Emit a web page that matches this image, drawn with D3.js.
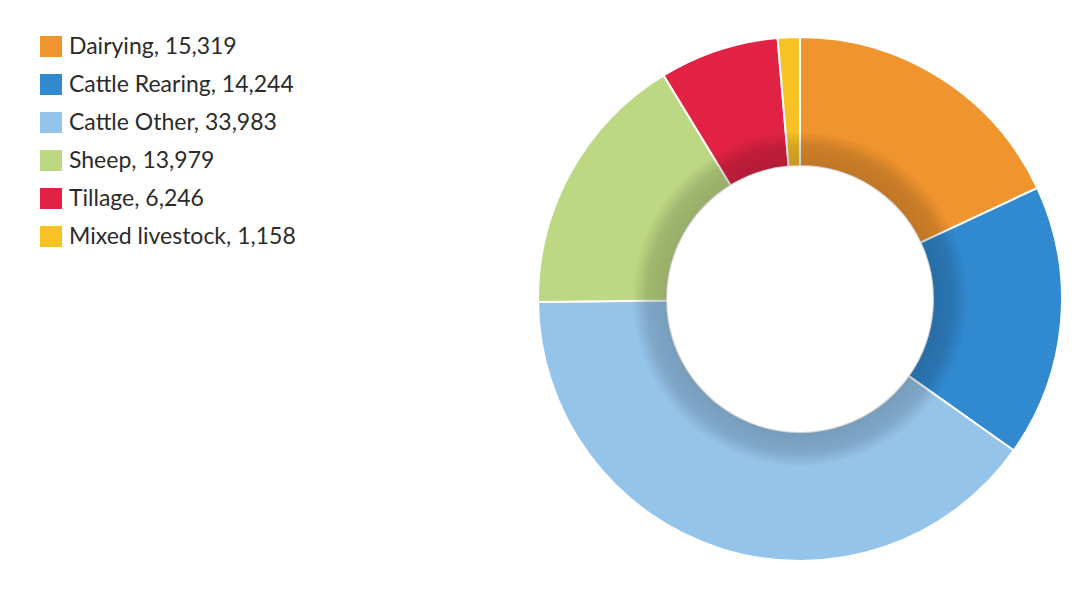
<!DOCTYPE html>
<html>
<head>
<meta charset="utf-8">
<script src="https://cdn.jsdelivr.net/npm/d3@7"></script>
<style>
  body { margin: 0; background: #fff; }
  .legend-label { font-family: Lato, sans-serif; font-size: 23px; fill: #2b2b2b; }
</style>
</head>
<body>
<div id="chart"></div>
<script>
// Farm types and counts
const categories = ['Dairying', 'Cattle Rearing', 'Cattle Other', 'Sheep', 'Tillage', 'Mixed livestock'];
const values = [15319, 14244, 33983, 13979, 6246, 1158];
const colours = ['#F0942E', '#3189D0', '#95C4EA', '#BDD883', '#E12244', '#F8C124'];

const width = 1078, height = 601;
const cx = 800, cy = 299;
const outerR = 262, innerR = 133, shadowR = 168;

const data = categories.map((c, i) => ({ name: c, value: values[i], colour: colours[i] }));

const svg = d3.select('#chart').append('svg')
    .attr('width', width)
    .attr('height', height);

// Radial gradient for the inner shadow (centre of the donut group is 0,0)
const defs = svg.append('defs');
const grad = defs.append('radialGradient')
    .attr('id', 'inner-shadow')
    .attr('gradientUnits', 'userSpaceOnUse')
    .attr('cx', 0).attr('cy', 0).attr('r', shadowR);
grad.append('stop').attr('offset', innerR / shadowR).attr('stop-color', '#000').attr('stop-opacity', 0.2);
grad.append('stop').attr('offset', (innerR + 20) / shadowR).attr('stop-color', '#000').attr('stop-opacity', 0.15);
grad.append('stop').attr('offset', 1).attr('stop-color', '#000').attr('stop-opacity', 0);

const pie = d3.pie()
    .value(d => d.value)
    .sort(null);

const arc = d3.arc()
    .innerRadius(innerR)
    .outerRadius(outerR);

const donut = svg.append('g')
    .attr('transform', `translate(${cx},${cy})`);

donut.selectAll('path.slice')
    .data(pie(data))
    .join('path')
    .attr('class', 'slice')
    .attr('d', arc)
    .attr('fill', d => d.data.colour)
    .attr('stroke', '#fff')
    .attr('stroke-width', 2);

// Shadow ring on top of the slices
donut.append('path')
    .attr('d', d3.arc().innerRadius(innerR).outerRadius(shadowR).startAngle(0).endAngle(2 * Math.PI)())
    .attr('fill', 'url(#inner-shadow)')
    .style('pointer-events', 'none');

// Legend
const fmt = d3.format(',');
const legend = svg.append('g')
    .attr('transform', 'translate(40,36)');

const rows = legend.selectAll('g.row')
    .data(data)
    .join('g')
    .attr('class', 'row')
    .attr('transform', (d, i) => `translate(0,${i * 38})`);

rows.append('rect')
    .attr('width', 22)
    .attr('height', 21)
    .attr('fill', d => d.colour);

rows.append('text')
    .attr('class', 'legend-label')
    .attr('x', 29)
    .attr('y', 18)
    .text(d => `${d.name}, ${fmt(d.value)}`);
</script>
</body>
</html>
